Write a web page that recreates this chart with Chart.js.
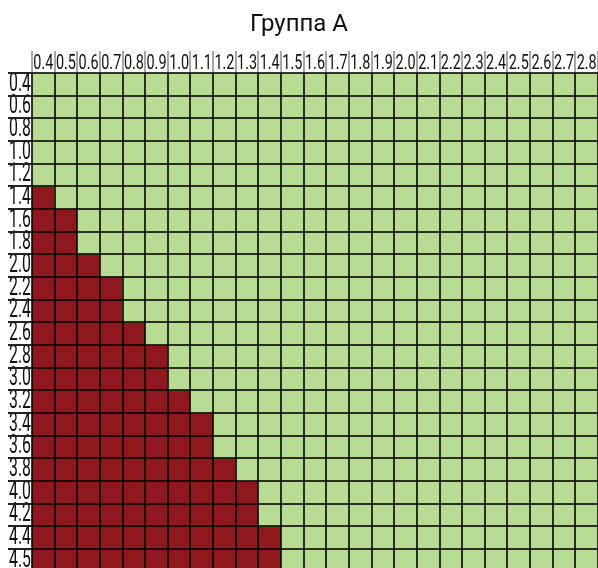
<!DOCTYPE html>
<html>
<head>
<meta charset="utf-8">
<script src="https://cdn.jsdelivr.net/npm/chart.js@4/dist/chart.umd.min.js"></script>
<style>
    body { margin: 0; background: #fff; }
    #wrap { width: 598px; height: 568px; }
</style>
</head>
<body>
<div id="wrap"><canvas id="chart-grid"></canvas></div>
<script>
// Column and row headings
const colLabels = ['0.4', '0.5', '0.6', '0.7', '0.8', '0.9', '1.0', '1.1', '1.2', '1.3', '1.4', '1.5', '1.6',
    '1.7', '1.8', '1.9', '2.0', '2.1', '2.2', '2.3', '2.4', '2.5', '2.6', '2.7', '2.8'];
const rowLabels = ['0.4', '0.6', '0.8', '1.0', '1.2', '1.4', '1.6', '1.8', '2.0', '2.2', '2.4',
    '2.6', '2.8', '3.0', '3.2', '3.4', '3.6', '3.8', '4.0', '4.2', '4.4', '4.5'];
// How many cells from the left are marked red in each row
const redCounts = [0, 0, 0, 0, 0, 1, 2, 2, 3, 4, 4, 5, 6, 6, 7, 8, 8, 9, 10, 10, 11, 11];

const colors = {
    red: '#8f181e',
    green: '#b9dc94',
    line: 'rgba(0, 0, 0, 0.78)'
};
const FONT = "'Roboto', 'Liberation Sans', sans-serif";

// Squeeze the tick labels into their cells (fillText maxWidth)
const narrowTicks = {
    id: 'narrowTicks',
    beforeDraw(chart) {
        const widths = { x: 20, y: 22 };
        Object.keys(widths).forEach(id => {
            chart.scales[id].getLabelItems().forEach(item => {
                item.options.maxWidth = widths[id];
            });
        });
    }
};

// One dataset per row, every cell is a floating bar spanning [row, row + 1]
const datasets = rowLabels.map((label, r) => ({
    label: label,
    data: colLabels.map(() => [r, r + 1]),
    backgroundColor: ctx => ctx.dataIndex < redCounts[r] ? colors.red : colors.green,
    borderWidth: 0,
    barPercentage: 1,
    categoryPercentage: 1,
    grouped: false
}));

new Chart(document.getElementById('chart-grid').getContext('2d'), {
    type: 'bar',
    data: { labels: colLabels, datasets: datasets },
    plugins: [narrowTicks],
    options: {
        responsive: true,
        maintainAspectRatio: false,
        animation: false,
        events: [],
        layout: { padding: 0 },
        plugins: {
            legend: { display: false },
            tooltip: { enabled: false },
            title: {
                display: true,
                text: 'Группа А',
                color: '#111',
                font: { family: FONT, size: 24, weight: 'normal', lineHeight: 1.2 },
                padding: { top: 10.7, bottom: 0 }
            }
        },
        scales: {
            x: {
                position: 'top',
                offset: true,
                afterFit: s => { s.height = 33.5; },
                border: { display: false },
                grid: {
                    offset: true,
                    z: 1,
                    color: colors.line,
                    lineWidth: 2,
                    tickLength: 22,
                    tickColor: '#8a8a8a',
                    tickWidth: 1.5
                },
                ticks: {
                    color: '#111',
                    padding: -25,
                    maxRotation: 0,
                    autoSkip: false,
                    font: { family: FONT, size: 20 }
                }
            },
            y: {
                reverse: true,
                min: 0,
                max: 21.84,
                afterFit: s => { s.width = 32; },
                // one tick in the middle of each row so the labels sit inside the rows
                afterBuildTicks: s => { s.ticks = rowLabels.map((_, i) => ({ value: i + 0.5 })); },
                border: { display: false },
                grid: {
                    offset: true,
                    z: 1,
                    color: colors.line,
                    lineWidth: 2,
                    tickLength: 24,
                    tickColor: '#222',
                    tickWidth: 2
                },
                ticks: {
                    color: '#111',
                    padding: -23,
                    autoSkip: false,
                    callback: (value, index) => rowLabels[index],
                    font: { family: FONT, size: 25 }
                }
            }
        }
    }
});
</script>
</body>
</html>
